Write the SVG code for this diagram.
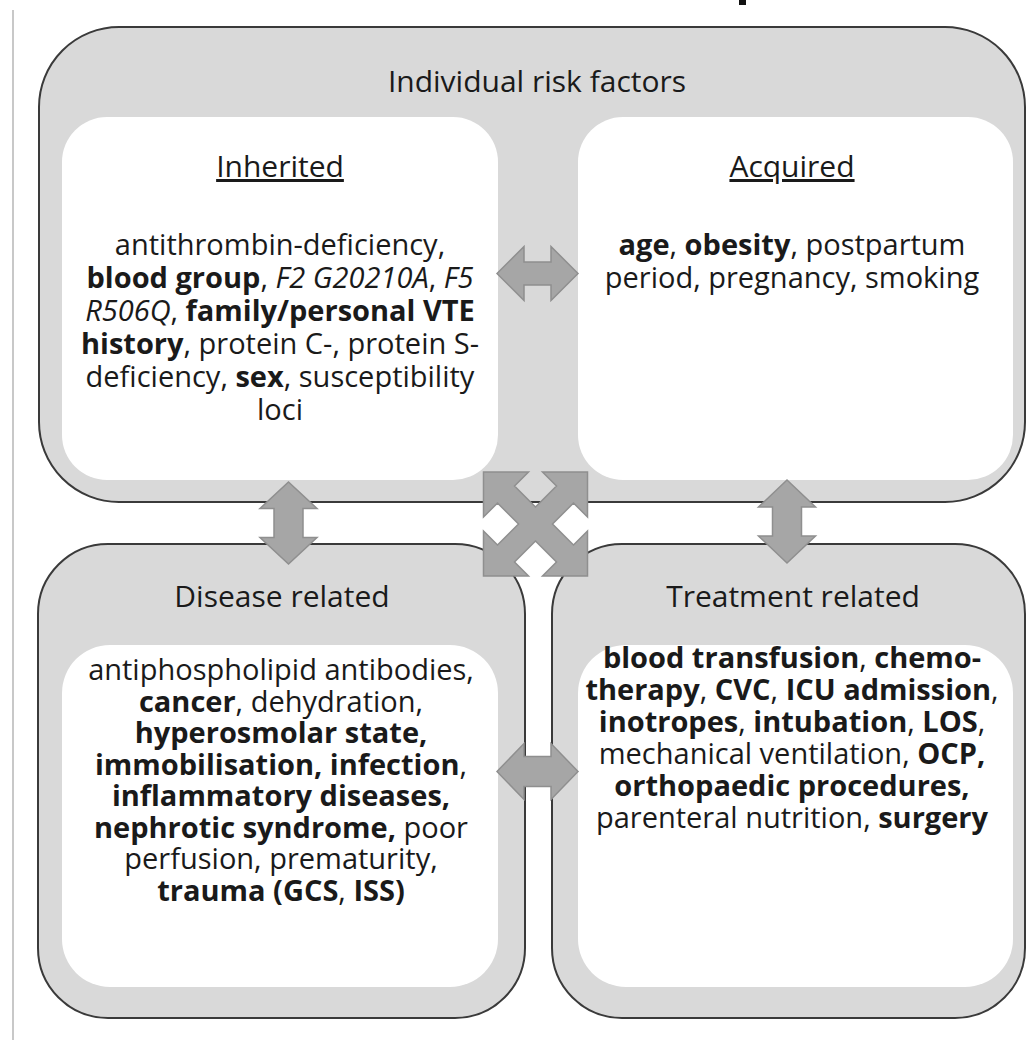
<svg xmlns="http://www.w3.org/2000/svg" width="1026" height="1040" viewBox="0 0 1026 1040">
<style>
.outer{fill:#d9d9d9;stroke:#3a3a3a;stroke-width:2}
.inner{fill:#ffffff}
.arr{fill:#a6a6a6;stroke:#8f8f8f;stroke-width:1.5;stroke-linejoin:miter}
text{font-family:"Open Sans","Noto Sans",sans-serif;fill:#1a1a1a;text-anchor:middle}
.h{font-size:30px}
.tx{font-size:29px}
.bd{font-weight:bold}
.it{font-style:italic}
.ul{text-decoration:underline}
</style>
<rect width="1026" height="1040" fill="#ffffff"/>
<line x1="13" y1="10" x2="13" y2="1040" stroke="#c8c8c8" stroke-width="2"/>
<rect x="739" y="0" width="7" height="5" fill="#111"/>

<g id="individual">
<rect class="outer" x="39" y="27" width="986" height="475" rx="80" ry="80"/>
<text class="h" x="537" y="92">Individual risk factors</text>
</g>

<g id="inherited">
<rect class="inner" x="62" y="117" width="436" height="363" rx="45" ry="45"/>
<text class="h ul" x="280" y="177">Inherited</text>
<text class="tx" x="280" y="255">antithrombin-deficiency,</text>
<text class="tx" x="280" y="288"><tspan class="bd">blood group</tspan>, <tspan class="it">F2 G20210A</tspan>, <tspan class="it">F5</tspan></text>
<text class="tx" x="280" y="321"><tspan class="it">R506Q</tspan>, <tspan class="bd">family/personal VTE</tspan></text>
<text class="tx" x="280" y="354"><tspan class="bd">history</tspan>, protein C-, protein S-</text>
<text class="tx" x="280" y="387">deficiency, <tspan class="bd">sex</tspan>, susceptibility</text>
<text class="tx" x="280" y="420">loci</text>
</g>

<g id="acquired">
<rect class="inner" x="578" y="117" width="435" height="363" rx="45" ry="45"/>
<text class="h ul" x="792" y="177">Acquired</text>
<text class="tx" x="792" y="255"><tspan class="bd">age</tspan>, <tspan class="bd">obesity</tspan>, postpartum</text>
<text class="tx" x="792" y="288">period, pregnancy, smoking</text>
</g>

<g id="disease">
<rect class="outer" x="38" y="544" width="487" height="474" rx="70" ry="70"/>
<rect class="inner" x="62" y="645" width="436" height="342" rx="48" ry="48"/>
<text class="h" x="282" y="607">Disease related</text>
<text class="tx" x="281" y="680">antiphospholipid antibodies,</text>
<text class="tx" x="281" y="712"><tspan class="bd">cancer</tspan>, dehydration,</text>
<text class="tx" x="281" y="743"><tspan class="bd">hyperosmolar state,</tspan></text>
<text class="tx" x="281" y="775"><tspan class="bd">immobilisation, infection</tspan>,</text>
<text class="tx" x="281" y="806"><tspan class="bd">inflammatory diseases,</tspan></text>
<text class="tx" x="281" y="838"><tspan class="bd">nephrotic syndrome,</tspan> poor</text>
<text class="tx" x="281" y="869">perfusion, prematurity,</text>
<text class="tx" x="281" y="901"><tspan class="bd">trauma (GCS</tspan>, <tspan class="bd">ISS)</tspan></text>
</g>

<g id="treatment">
<rect class="outer" x="552" y="544" width="473" height="474" rx="70" ry="70"/>
<rect class="inner" x="578" y="645" width="435" height="342" rx="48" ry="48"/>
<text class="h" x="793" y="607">Treatment related</text>
<text class="tx" x="792" y="668"><tspan class="bd">blood transfusion</tspan>, <tspan class="bd">chemo-</tspan></text>
<text class="tx" x="792" y="700"><tspan class="bd">therapy</tspan>, <tspan class="bd">CVC</tspan>, <tspan class="bd">ICU admission</tspan>,</text>
<text class="tx" x="792" y="732"><tspan class="bd">inotropes</tspan>, <tspan class="bd">intubation</tspan>, <tspan class="bd">LOS</tspan>,</text>
<text class="tx" x="792" y="764">mechanical ventilation, <tspan class="bd">OCP,</tspan></text>
<text class="tx" x="792" y="796"><tspan class="bd">orthopaedic procedures,</tspan></text>
<text class="tx" x="792" y="828">parenteral nutrition, <tspan class="bd">surgery</tspan></text>
</g>

<g id="connectors">
<polygon class="arr" points="497,273.5 524,246.5 524,262 551,262 551,246.5 578,273.5 551,300.5 551,285 524,285 524,300.5"/>
<polygon class="arr" points="497,771.5 524,743.5 524,756.5 551,756.5 551,743.5 578,771.5 551,799.5 551,786.5 524,786.5 524,799.5"/>
<polygon class="arr" points="288.5,482 317,508.5 303,508.5 303,537.5 317,537.5 288.5,564 260,537.5 274,537.5 274,508.5 260,508.5"/>
<polygon class="arr" points="787,480 815.5,507 801.5,507 801.5,536 815.5,536 787,563 758.5,536 772.5,536 772.5,507 758.5,507"/>
<polygon class="arr" transform="translate(535.5,524)" points="-52,-52 -7,-52 -21,-38 0,-17 21,-38 7,-52 52,-52 52,-7 38,-21 17,0 38,21 52,7 52,52 7,52 21,38 0,17 -21,38 -7,52 -52,52 -52,7 -38,21 -17,0 -38,-21 -52,-7"/>
</g>
</svg>
